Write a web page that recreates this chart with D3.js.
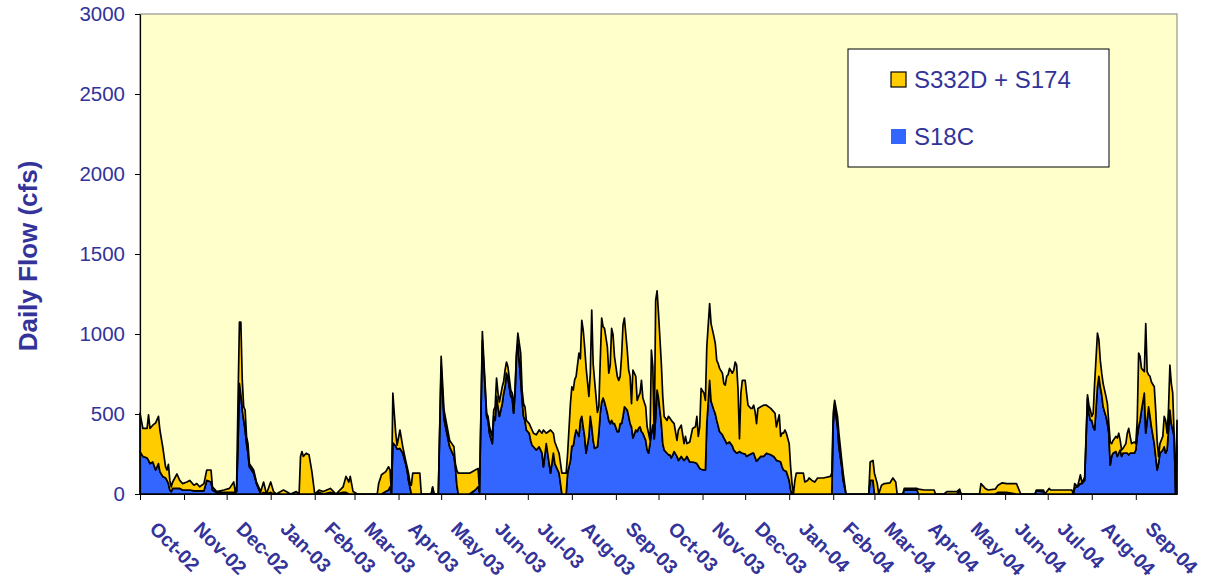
<!DOCTYPE html>
<html><head><meta charset="utf-8">
<script src="https://cdn.jsdelivr.net/npm/d3@7"></script>
<style>
body{margin:0;background:#fff}
svg{display:block}
text{font-family:"Liberation Sans",Arial,sans-serif}
</style>
</head><body>
<svg id="chart" width="1224" height="580"></svg>
<script>
// ---- data ----
const seriesNames = ["S18C", "S332D + S174"];
const startDay = "2002-10-01";
const endDay = "2004-09-30";
const yTickValues = [0, 500, 1000, 1500, 2000, 2500, 3000];

// days since 1 Oct 2002
const dayOffsets = [
0,2,5,6,7,9,11,13,14,16,
18,19,20,21,22,23,26,28,30,33,
35,38,40,42,45,47,50,51,54,59,
63,66,67,68,69,70,71,72,73,74,
75,76,77,80,82,85,87,89,92,94,
96,101,106,110,112,113,114,115,117,119,
121,123,126,129,134,138,143,145,147,148,
150,153,167,168,170,173,175,176,177,178,
180,181,183,185,187,188,189,190,191,192,
197,198,205,206,207,210,212,214,216,218,
221,222,223,224,232,236,238,
239,241,243,244,245,246,248,249,250,251,
252,253,255,256,257,258,259,261,262,263,
264,265,266,268,269,270,271,272,274,275,
276,277,279,281,283,284,286,289,291,292,
295,297,300,301,303,304,305,306,307,309,
310,311,312,313,314,316,317,318,319,320,
322,323,324,325,326,327,329,330,331,332,
333,334,336,337,338,339,340,341,343,344,
345,346,347,349,350,351,352,353,354,356,
357,358,359,360,361,362,363,364,365,
367,368,369,371,372,373,374,376,378,379,
381,383,384,385,387,389,391,392,393,394,
395,397,398,399,401,402,404,405,406,407,
408,410,411,412,413,414,415,417,418,419,
420,421,422,423,424,426,427,428,430,431,
432,433,434,435,437,439,441,444,446,447,
448,450,451,452,453,454,455,457,458,459,
460,461,462,467,468,470,471,473,475,477,
481,486,487,488,489,491,492,494,495,497,
513,514,516,517,519,520,522,524,528,530,
532,533,537,538,542,547,548,552,559,560,
566,568,575,577,578,591,592,595,597,602,
604,607,610,617,620,630,631,636,637,640,
641,656,657,
658,660,662,663,664,665,667,668,669,670,
671,672,674,675,676,677,678,680,681,682,
683,684,685,687,688,689,690,691,692,694,
695,696,697,698,700,701,702,703,704,705,
707,708,709,710,711,712,714,715,716,717,
718,720,721,722,723,724,725,726,727,728,
729,730
];

// S18C daily flow (cfs)
const s18c = [
265,235,225,210,190,200,150,190,140,110,
100,85,65,25,15,35,35,35,25,25,
25,20,20,20,20,85,75,25,10,10,
10,10,10,15,315,690,620,525,460,400,
315,255,170,130,65,0,10,0,10,0,
0,0,0,0,0,0,0,0,0,0,
0,0,10,0,10,0,10,10,0,0,
0,0,0,0,0,15,25,45,0,320,
300,280,285,255,190,150,85,45,0,0,
0,0,0,40,0,0,800,470,380,295,
235,170,60,0,0,25,45,
10,960,655,485,460,380,315,485,460,610,
545,485,565,630,670,755,725,610,600,505,
630,860,940,715,585,485,460,400,380,335,
305,295,275,295,255,170,315,130,255,190,
130,0,0,130,210,300,300,360,400,360,
460,485,420,360,255,360,485,420,335,285,
295,380,505,575,600,575,505,460,440,460,
440,440,390,390,440,440,485,545,525,485,
440,420,350,400,390,410,420,390,380,335,
275,255,315,380,430,345,480,650,600,
440,315,275,255,245,245,225,265,235,210,
235,210,220,235,200,200,195,190,175,160,
155,150,150,440,710,580,525,500,460,425,
390,370,350,335,315,320,325,300,275,265,
255,260,265,260,255,250,235,240,250,255,
255,230,205,215,235,235,255,245,235,225,
210,205,200,170,150,145,140,85,25,0,
0,0,0,0,0,0,0,0,0,0,
0,0,0,440,560,420,295,170,85,0,
0,85,85,0,0,0,0,0,0,0,
0,0,0,25,25,25,0,0,0,0,
0,0,0,20,0,0,0,0,0,0,
10,10,10,0,0,0,20,15,0,0,
0,0,0,
40,45,65,65,75,85,600,505,460,460,
420,400,670,735,670,620,545,485,440,380,
180,235,255,265,235,255,275,235,255,255,
255,245,255,255,255,275,360,420,460,525,
630,380,460,545,485,420,315,235,150,190,
255,275,295,255,275,400,525,440,400,360,
0,300
];

// S332D + S174 daily flow (cfs)
const s332dS174 = [
240,175,185,285,220,230,295,295,260,185,
70,65,120,60,30,40,90,50,40,50,
60,35,45,25,45,65,75,20,5,15,
25,65,5,30,270,385,455,185,85,125,
45,60,20,20,10,15,65,0,65,15,
0,25,0,15,0,235,265,235,255,245,
140,0,15,15,25,0,35,100,75,110,
15,0,0,65,120,125,145,105,10,310,
80,25,115,40,20,20,45,30,55,130,
130,0,0,5,0,0,60,55,50,40,
60,20,90,130,130,125,115,
5,55,20,20,25,40,45,40,85,115,
85,90,105,75,105,70,70,40,30,40,
20,20,65,165,65,80,85,60,60,85,
95,85,95,105,125,230,65,270,125,135,
125,130,130,120,355,370,350,355,335,520,
385,600,605,560,540,250,270,730,480,425,
215,165,330,525,445,460,415,295,365,575,
555,420,345,320,295,420,570,555,375,290,
295,145,425,335,195,200,210,320,220,210,
145,125,20,520,365,10,730,620,530,
375,295,210,205,240,230,235,175,100,190,
195,105,140,80,125,210,225,295,185,260,
505,480,435,480,480,485,460,440,375,390,
395,385,340,345,420,425,460,455,500,560,
550,390,80,370,455,460,395,315,285,280,
300,285,235,320,310,320,300,290,280,280,
210,290,160,210,230,255,240,230,145,65,
0,85,130,130,75,85,100,85,75,100,
100,110,130,65,25,65,85,40,45,0,
0,115,125,130,65,0,55,65,70,100,
75,0,0,10,10,10,30,25,25,0,
0,15,15,10,0,0,65,35,25,30,
45,60,55,65,0,0,5,10,0,35,
25,25,0,
25,0,55,10,10,20,20,50,65,25,
85,290,335,230,165,135,145,125,125,60,
145,80,80,95,115,125,60,40,30,60,
125,165,105,60,70,40,100,460,400,260,
135,685,305,200,250,280,355,290,185,45,
60,85,190,205,105,125,280,250,230,0,
0,160
];

if (dayOffsets.length !== s18c.length || dayOffsets.length !== s332dS174.length) {
  throw new Error("length mismatch " + dayOffsets.length + " " + s18c.length + " " + s332dS174.length);
}

// ---- chart ----
const parse = d3.timeParse("%Y-%m-%d");
const t0 = parse(startDay), t1 = parse(endDay);
const rows = dayOffsets.map((d, i) => ({
  date: d3.timeDay.offset(t0, d),
  a: s18c[i],
  b: s332dS174[i]
}));

const L = 140, R = 1177, T = 14, B = 494;
const textColor = "#333399";
const svg = d3.select("#chart");

const x = d3.scaleTime().domain([t0, t1]).range([L, R]);
const y = d3.scaleLinear().domain([0, 3000]).range([B, T]);

svg.append("rect").attr("x", L).attr("y", T).attr("width", R - L).attr("height", B - T)
  .attr("fill", "#FFFFCC").attr("stroke", "#808080").attr("stroke-width", 1);

const stacked = d3.stack().keys(["a", "b"])(rows);
const colors = ["#3366FF", "#FFCC00"];
const area = d3.area().x(d => x(d.data.date)).y0(d => y(d[0])).y1(d => y(d[1]));

svg.append("g").selectAll("path").data(stacked).join("path")
  .attr("d", area)
  .attr("fill", (d, i) => colors[i])
  .attr("stroke", "#000")
  .attr("stroke-width", 1.7)
  .attr("stroke-linejoin", "round");

// y axis
const yAxis = svg.append("g").attr("transform", `translate(${L},0)`)
  .call(d3.axisLeft(y).tickValues(yTickValues).tickSize(5).tickSizeOuter(0).tickPadding(10).tickFormat(d3.format("d")));
yAxis.select(".domain").attr("stroke", "#000").attr("stroke-width", 1.2);
yAxis.selectAll(".tick line").attr("stroke", "#000");
yAxis.selectAll("text").attr("fill", textColor).style("font-size", "20.5px")
  .style("font-family", "'Liberation Sans', Arial, sans-serif");

// x axis
const xAxis = svg.append("g").attr("transform", `translate(0,${B})`)
  .call(d3.axisBottom(x).ticks(d3.timeMonth.every(1)).tickFormat(d3.timeFormat("%b-%y")).tickSize(6).tickSizeOuter(0));
xAxis.select(".domain").attr("stroke", "#000").attr("stroke-width", 1.2);
xAxis.selectAll(".tick line").attr("stroke", "#000");
xAxis.selectAll("text")
  .attr("x", 0).attr("y", 0).attr("dy", 0)
  .attr("transform", "translate(8,36) rotate(45)")
  .style("text-anchor", "start")
  .attr("fill", textColor)
  .style("font-size", "19.5px").style("font-weight", "bold")
  .style("font-family", "'Liberation Sans', Arial, sans-serif");

// y title
svg.append("text")
  .attr("transform", "translate(37,256) rotate(-90)")
  .attr("text-anchor", "middle")
  .attr("fill", textColor)
  .style("font-size", "26px").style("font-weight", "bold")
  .text("Daily Flow (cfs)");

// legend
const lg = svg.append("g");
lg.append("rect").attr("x", 848).attr("y", 49).attr("width", 261).attr("height", 118)
  .attr("fill", "#fff").attr("stroke", "#000").attr("stroke-width", 1);
const legendItems = [
  {name: seriesNames[1], color: colors[1], stroke: "#000", y: 72},
  {name: seriesNames[0], color: colors[0], stroke: "none", y: 129}
];
legendItems.forEach(it => {
  lg.append("rect").attr("x", 891).attr("y", it.y).attr("width", 15).attr("height", 15)
    .attr("fill", it.color).attr("stroke", it.stroke).attr("stroke-width", 1.2);
  lg.append("text").attr("x", 914).attr("y", it.y + 15.5)
    .attr("fill", textColor).style("font-size", "24px").text(it.name);
});
</script>
</body></html>
